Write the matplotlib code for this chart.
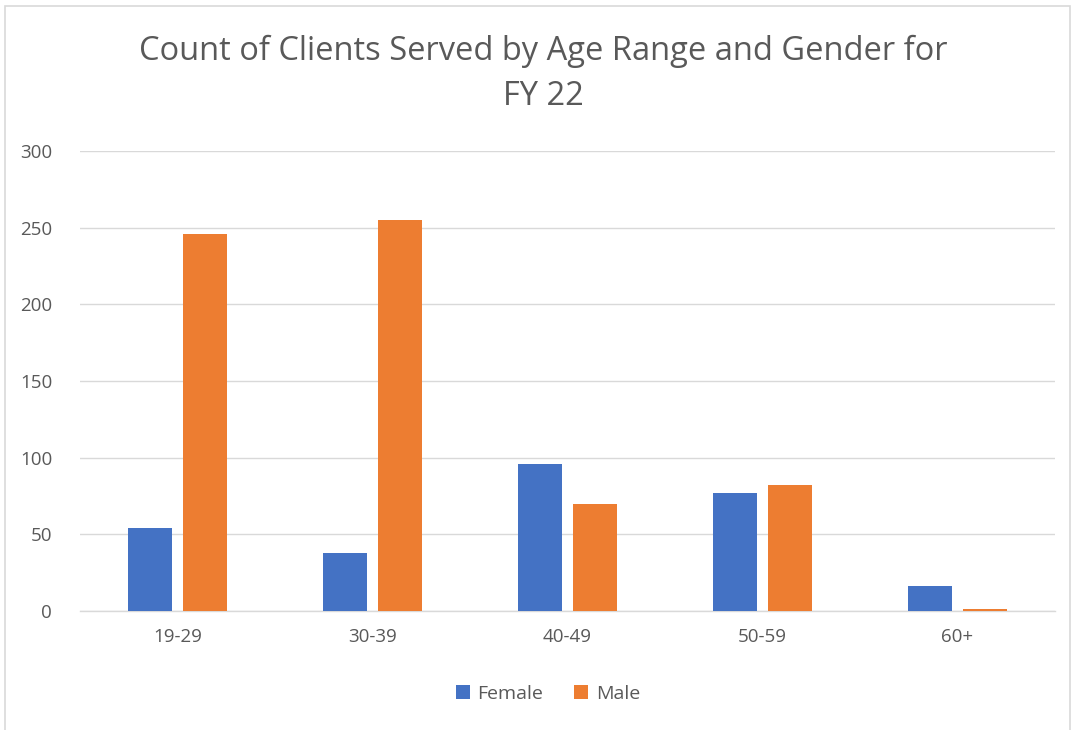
import matplotlib
matplotlib.use("Agg")
import matplotlib.pyplot as plt
import numpy as np
from matplotlib.patches import Rectangle

categories = ["19-29", "30-39", "40-49", "50-59", "60+"]
female = [54, 38, 96, 77, 16]
male = [246, 255, 70, 82, 1]
yticks = [0, 50, 100, 150, 200, 250, 300]

plt.rcParams['font.family'] = ['Open Sans', 'DejaVu Sans']
fig = plt.figure(figsize=(10.75, 7.3), dpi=100)
ax = fig.add_axes([80/1075, 1-611/730, 975/1075, 460/730])

x = np.arange(len(categories))
w = 0.226
off = 0.141
ax.bar(x - off, female, w, color="#4472C4", label="Female", zorder=3)
ax.bar(x + off, male, w, color="#ED7D31", label="Male", zorder=3)

ax.set_xlim(-0.5, len(categories) - 0.5)
ax.set_ylim(0, 300)
ax.set_yticks(yticks)
ax.set_xticks(x)
ax.set_xticklabels(categories)
ax.tick_params(axis='both', length=0, labelsize=13.5, colors="#595959")
ax.tick_params(axis='y', pad=20)
ax.tick_params(axis='x', pad=12)
ax.grid(axis='y', color="#D9D9D9", linewidth=1, zorder=0)
for s in ["top", "right", "left"]:
    ax.spines[s].set_visible(False)
ax.spines["bottom"].set_color("#D9D9D9")
ax.spines["bottom"].set_linewidth(1)

fig.text(543/1075, 1-74/730, "Count of Clients Served by Age Range and Gender for\nFY 22",
         ha="center", va="center", fontsize=23.5, color="#595959", linespacing=1.5)

fig.legend(loc="center", bbox_to_anchor=(548/1075, 1-694/730), ncol=2, frameon=False,
           fontsize=14, labelcolor="#595959", handlelength=0.7, handleheight=0.7,
           columnspacing=1.6, handletextpad=0.4)

fig.patches.append(Rectangle((5/1075, -0.05), 1065/1075, 1-6/730+0.05, transform=fig.transFigure,
                             fill=False, edgecolor="#D9D9D9", linewidth=1.2))

fig.savefig("out.png", dpi=100, facecolor="white")
